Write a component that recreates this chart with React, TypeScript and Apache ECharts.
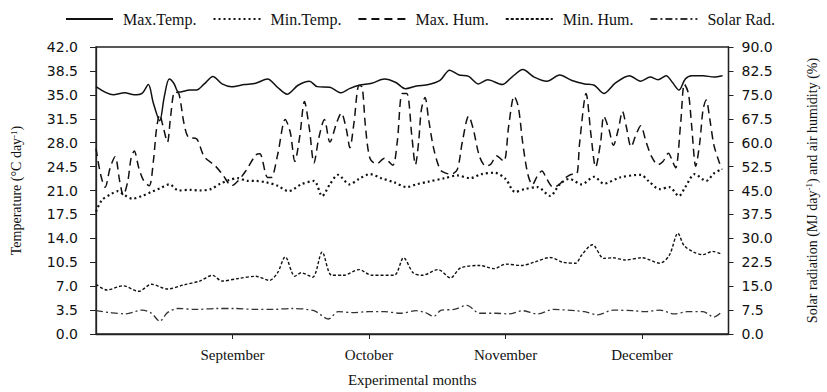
import React, { useEffect, useRef } from "react";
import * as echarts from "echarts";

// day index from start of record (value axis), value
const maxTemp: [number, number][] = [[0,36.2],[3.8,35.0],[6.3,35.3],[8.4,35.0],[10.1,35.2],[11.5,36.5],[12.6,33.8],[14.0,31.2],[15.0,34.7],[16.1,37.3],[17.1,36.7],[18.2,35.4],[20.7,35.7],[22.1,35.7],[23.8,36.6],[25.7,37.7],[27.7,36.6],[29.8,36.2],[32.6,36.5],[35.1,36.7],[37.7,37.3],[39.9,36.1],[42.0,35.1],[44.4,36.4],[46.9,37.0],[48.6,36.2],[51.4,36.1],[53.9,35.3],[55.7,35.9],[57.8,36.4],[60.6,36.7],[63.4,37.3],[65.9,36.8],[68.0,35.9],[70.4,36.3],[73.1,36.5],[75.6,37.1],[77.7,38.6],[79.8,37.9],[81.9,37.7],[84.0,36.6],[86.1,37.2],[89.3,36.5],[91.4,37.6],[93.8,38.7],[96.3,37.6],[99.1,37.0],[101.9,37.9],[104.6,37.1],[107.4,36.6],[109.5,36.4],[111.6,35.2],[114.1,36.7],[117.2,37.8],[119.7,37.0],[121.8,37.6],[123.5,37.2],[125.3,37.8],[126.7,36.8],[128.1,35.7],[129.5,37.3],[130.9,37.8],[133.4,37.8],[135.8,37.6],[137.7,37.8]];
const minTemp: [number, number][] = [[0,17.9],[1.3,19.6],[3.1,20.4],[4.8,20.9],[6.3,20.3],[8.0,19.8],[10.1,20.2],[12.2,20.8],[14.3,21.4],[16.1,21.9],[18.2,21.0],[20.7,21.1],[22.8,21.0],[25.2,21.2],[27.3,22.0],[29.1,22.5],[31.2,22.8],[33.3,22.4],[35.1,22.4],[37.4,22.2],[39.9,21.7],[42.3,20.9],[45.1,21.9],[47.9,22.4],[49.7,20.2],[51.4,21.9],[53.2,23.3],[55.7,21.9],[57.8,22.7],[60.2,23.4],[62.7,22.8],[65.5,22.2],[68.3,21.5],[70.4,21.9],[73.1,22.3],[76.6,22.8],[79.4,23.2],[82.2,22.8],[84.7,23.4],[87.5,23.6],[90.0,22.7],[92.1,20.8],[94.2,21.2],[97.0,21.5],[99.8,20.2],[101.9,21.9],[104.0,22.7],[106.7,21.9],[109.5,23.0],[111.6,22.0],[115.1,22.9],[119.7,23.3],[121.4,22.4],[123.9,21.2],[126.0,21.5],[128.1,20.2],[129.5,21.5],[131.6,23.4],[134.1,22.4],[135.8,23.5],[137.5,24.1]];
const maxHum: [number, number][] = [[0,58.2],[1.0,50.1],[2.0,46.0],[3.1,52.1],[4.2,55.6],[5.2,48.0],[6.0,43.5],[7.0,48.0],[7.7,55.1],[8.4,57.4],[9.4,52.1],[10.5,48.0],[11.7,46.5],[12.6,54.1],[13.3,64.3],[14.0,68.8],[14.7,65.3],[15.7,60.2],[16.4,68.3],[17.3,75.9],[18.2,75.4],[19.3,66.3],[20.3,61.7],[22.1,61.2],[23.8,55.6],[26.3,52.6],[28.0,49.6],[29.8,46.5],[31.2,48.0],[32.9,51.1],[35.1,56.1],[36.0,56.5],[37.7,49.1],[38.5,49.1],[39.9,56.1],[41.6,67.3],[42.7,63.2],[43.7,54.1],[44.8,62.2],[45.8,72.9],[46.9,64.3],[47.9,53.6],[49.0,61.7],[50.2,67.3],[51.4,60.2],[52.9,66.3],[53.9,69.3],[55.0,64.3],[55.8,58.4],[56.7,66.3],[57.8,77.9],[58.5,77.4],[59.2,65.3],[60.2,55.1],[61.6,53.3],[63.4,55.1],[65.2,52.9],[66.2,60.2],[67.3,75.4],[68.3,75.4],[69.4,62.2],[70.2,53.1],[70.9,60.2],[71.5,70.3],[72.3,74.2],[73.1,67.3],[74.2,58.2],[75.6,51.6],[76.6,50.6],[78.0,50.1],[79.4,51.6],[80.5,60.2],[81.9,68.3],[82.9,64.3],[84.3,55.6],[85.7,52.6],[86.8,53.3],[88.0,55.9],[89.6,54.1],[90.7,65.3],[91.9,74.6],[92.8,71.3],[93.8,59.7],[94.9,50.1],[95.9,46.8],[97.0,49.6],[98.0,51.1],[99.1,48.5],[100.5,46.0],[101.9,47.0],[103.3,49.1],[104.7,50.1],[105.6,50.1],[106.3,60.2],[107.7,75.4],[108.8,62.2],[109.8,52.3],[110.9,60.2],[111.6,68.3],[112.7,64.3],[113.7,59.2],[114.8,64.3],[115.7,69.8],[116.5,65.3],[117.6,58.7],[118.6,62.2],[119.7,65.3],[120.9,60.2],[122.1,55.6],[123.5,53.1],[124.6,54.1],[125.8,56.7],[126.7,54.1],[127.4,52.1],[128.5,66.3],[129.3,78.4],[130.2,75.4],[130.9,65.3],[131.8,52.6],[132.7,60.2],[133.4,70.3],[134.1,73.4],[134.9,67.3],[135.8,59.2],[136.9,54.1],[137.6,51.6]];
const minHum: [number, number][] = [[0,15.6],[2.4,13.8],[5.9,15.1],[9.4,13.4],[12.2,15.6],[15.7,14.1],[19.3,15.4],[22.8,16.6],[25.6,18.4],[27.7,16.6],[31.2,17.4],[35.1,18.1],[38.1,16.8],[39.9,19.2],[41.6,24.2],[43.7,18.1],[45.1,19.2],[47.6,17.8],[49.7,25.7],[51.8,18.4],[54.3,18.4],[57.8,20.2],[60.6,18.4],[65.5,18.4],[67.6,23.9],[69.7,19.2],[71.7,18.4],[75.2,20.2],[77.9,17.6],[80.1,20.7],[84.3,21.5],[87.5,20.5],[90.0,21.9],[93.5,21.5],[96.3,22.5],[99.8,24.0],[102.6,22.5],[105.4,22.2],[106.7,24.7],[109.1,28.0],[111.6,23.7],[113.7,23.9],[116.2,23.2],[120.0,23.9],[123.9,22.2],[126.0,24.7],[127.9,31.6],[129.2,27.8],[131.3,25.7],[133.4,24.9],[135.5,25.9],[137.2,25.2]];
const solarRad: [number, number][] = [[0,7.3],[3.1,6.7],[6.6,6.3],[10.1,7.5],[12.2,6.5],[14.0,4.0],[15.7,6.7],[17.9,8.0],[22.1,7.7],[26.3,8.0],[30.5,8.0],[35.1,7.7],[38.8,7.7],[43.0,8.0],[47.9,7.3],[51.1,4.7],[53.2,7.0],[56.4,6.7],[59.9,7.0],[63.4,7.0],[66.9,6.5],[70.4,7.3],[72.4,6.7],[74.2,5.5],[75.9,7.5],[78.7,7.7],[81.5,9.0],[84.3,6.5],[87.9,6.5],[90.7,6.3],[93.8,7.3],[97.0,6.3],[100.5,7.7],[105.4,7.3],[107.4,7.0],[110.2,6.0],[113.7,7.5],[117.9,7.3],[120.7,7.0],[123.9,7.5],[127.1,6.3],[129.9,7.0],[133.4,7.0],[135.8,5.3],[137.2,6.5]];

const monthTicks = [30, 60, 90, 120];
const monthLabels = ["September", "October", "November", "December"];

const serif = "'Liberation Serif', 'Times New Roman', serif";
const sans = "'DejaVu Sans', Verdana, sans-serif";

export default function App() {
  const ref = useRef<HTMLDivElement>(null);
  useEffect(() => {
    document.body.style.margin = "0";
    if (!ref.current) return;
    const chart = echarts.init(ref.current, undefined, { renderer: "svg" });
    const axisLine = { show: true, lineStyle: { color: "#222", width: 1.3 } };
    const mk = (name: string, data: [number, number][], yIndex: number, type: any, width: number, color = "#111") => ({
      name,
      type: "line",
      yAxisIndex: yIndex,
      data,
      smooth: 0.3,
      showSymbol: false,
      symbol: "none",
      lineStyle: { color, width, type, cap: "butt" },
      itemStyle: { color },
    });
    chart.setOption({
      animation: false,
      backgroundColor: "#fff",
      legend: {
        top: 6,
        left: 60,
        itemWidth: 47,
        itemHeight: 10,
        itemGap: 16,
        itemStyle: { opacity: 0 },
        textStyle: { fontFamily: serif, fontSize: 16, color: "#111", padding: [0, 0, 0, 5] },
        data: ["Max.Temp.", "Min.Temp.", "Max. Hum.", "Min. Hum.", "Solar Rad."],
      },
      grid: {
        left: 96,
        right: 70,
        top: 47,
        bottom: 49,
        show: true,
        borderColor: "#222",
        borderWidth: 1.3,
      },
      xAxis: {
        type: "value",
        min: 0,
        max: 139,
        name: "Experimental months",
        nameLocation: "middle",
        nameGap: 38,
        nameTextStyle: { fontFamily: serif, fontSize: 15, color: "#111" },
        axisLine,
        axisTick: { show: true, inside: false, length: 5, customValues: monthTicks, lineStyle: { color: "#222" } },
        axisLabel: {
          customValues: monthTicks,
          margin: 13,
          fontFamily: serif,
          fontSize: 15,
          color: "#111",
          formatter: (v: number) => {
            const i = monthTicks.indexOf(Math.round(v));
            return i >= 0 ? monthLabels[i] : "";
          },
        },
        splitLine: { show: false },
      },
      yAxis: [
        {
          type: "value",
          position: "left",
          min: 0,
          max: 42,
          interval: 3.5,
          name: "Temperature (°C day{sup|-1})",
          nameLocation: "middle",
          nameRotate: 90,
          nameGap: 72,
          nameTextStyle: {
            fontFamily: serif,
            fontSize: 14,
            color: "#111",
            rich: { sup: { fontFamily: serif, fontSize: 9, verticalAlign: "top", padding: [0, 0, 6, 0] } },
          },
          axisLine,
          axisTick: { show: true, length: 6, lineStyle: { color: "#222" } },
          axisLabel: { margin: 18, fontFamily: sans, fontSize: 14, color: "#111", formatter: (v: number) => v.toFixed(1) },
          splitLine: { show: false },
        },
        {
          type: "value",
          position: "right",
          min: 0,
          max: 90,
          interval: 7.5,
          name: "Solar radiation (MJ day{sup|-1}) and air humidity (%)",
          nameLocation: "middle",
          nameRotate: 90,
          nameGap: 76,
          nameTextStyle: {
            fontFamily: serif,
            fontSize: 14,
            color: "#111",
            rich: { sup: { fontFamily: serif, fontSize: 9, verticalAlign: "top", padding: [0, 0, 6, 0] } },
          },
          axisLine,
          axisTick: { show: true, length: 5, lineStyle: { color: "#222" } },
          axisLabel: { margin: 13, fontFamily: sans, fontSize: 14, color: "#111", formatter: (v: number) => v.toFixed(1) },
          splitLine: { show: false },
        },
      ],
      series: [
        mk("Max.Temp.", maxTemp, 0, "solid", 1.5),
        mk("Min.Temp.", minTemp, 0, [2, 3], 2.2),
        mk("Max. Hum.", maxHum, 1, [8, 5], 1.5),
        mk("Min. Hum.", minHum, 1, [3, 2], 1.4),
        mk("Solar Rad.", solarRad, 1, [7, 3, 2, 3], 1.3, "#333"),
      ],
    });
    return () => chart.dispose();
  }, []);
  return <div ref={ref} style={{ width: 827, height: 392 }} />;
}
